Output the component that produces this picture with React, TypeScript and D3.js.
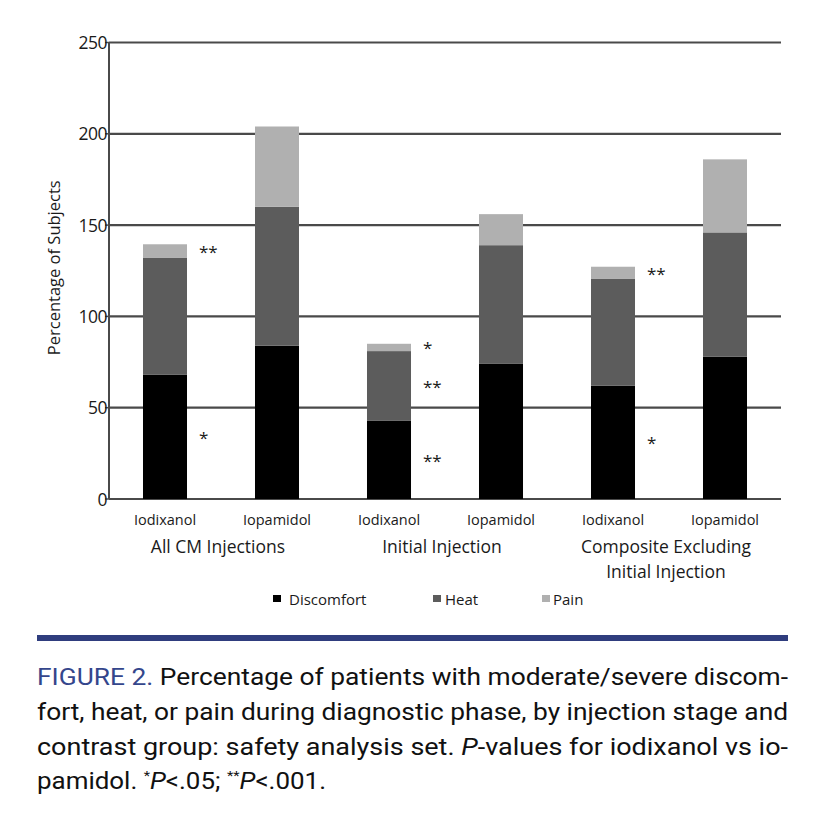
import React from "react";
import * as d3 from "d3";

const bars = ["Iodixanol", "Iopamidol", "Iodixanol", "Iopamidol", "Iodixanol", "Iopamidol"];
const groups = [["All CM Injections"], ["Initial Injection"], ["Composite Excluding", "Initial Injection"]];
const discomfort = [68, 84, 43, 74, 62, 78];
const heat = [64, 76, 38, 65, 58.5, 68];
const pain = [7.5, 44, 4, 17, 6.7, 40];
const seriesNames = ["Discomfort", "Heat", "Pain"];
const seriesColors = ["#000000", "#5c5c5c", "#b0b0b0"];
const yTicks = [0, 50, 100, 150, 200, 250];
// significance marks: [bar index, series index, label]
const marks: [number, number, string][] = [
  [0, 2, "**"], [0, 0, "*"],
  [2, 2, "*"], [2, 1, "**"], [2, 0, "**"],
  [4, 2, "**"], [4, 0, "*"],
];
const captionLines = [
  "Percentage of patients with moderate/severe discom-",
  "fort, heat, or pain during diagnostic phase, by injection stage and",
  "contrast group: safety analysis set. ",
];

export default function App() {
  const W = 840, H = 820;
  const x0 = 109, x1 = 781, yTop = 42.5, yBot = 499;
  const y = d3.scaleLinear().domain([0, 250]).range([yBot, yTop]);
  const x = d3.scaleBand<number>().domain(d3.range(bars.length)).range([x0, x1]).paddingInner(0.607).paddingOuter(0.3035);
  const table = bars.map((b, i) => ({ i, Discomfort: discomfort[i], Heat: heat[i], Pain: pain[i] }));
  const stack = d3.stack<any>().keys(seriesNames)(table);
  const font = "'Open Sans', sans-serif";
  const textCol = "#1a1a1a";
  const capFont = "Roboto, 'Open Sans', sans-serif";

  return (
    <svg width={W} height={H} style={{ position: "absolute", left: 0, top: 0, background: "#fff" }}>
      <rect x={0} y={0} width={W} height={H} fill="#fff" />
      {yTicks.map((t) => (
        <line key={t} x1={x0} x2={x1} y1={y(t)} y2={y(t)} stroke="#4a4a4a" strokeWidth={2.2} />
      ))}
      {stack.map((s, si) =>
        s.map((d, i) => (
          <rect key={si + "-" + i} x={x(i)} width={x.bandwidth()} y={y(d[1])} height={y(d[0]) - y(d[1])} fill={seriesColors[si]} />
        ))
      )}
      <line x1={x0} x2={x0} y1={yTop} y2={yBot} stroke="#4a4a4a" strokeWidth={2} />
      {yTicks.map((t) => (
        <g key={"t" + t}>
          <line x1={x0 - 4} x2={x0} y1={y(t)} y2={y(t)} stroke="#4a4a4a" strokeWidth={1.5} />
          <text x={x0 - 2} y={y(t) + 6.5} textAnchor="end" fontFamily={font} fontSize={17.5} fill={textCol} letterSpacing={-0.5}>{t}</text>
        </g>
      ))}
      <text transform={`translate(60,${(yTop + yBot) / 2 - 3}) rotate(-90)`} textAnchor="middle" fontFamily={font} fontSize={16.5} fill={textCol}>
        Percentage of Subjects
      </text>
      {marks.map(([bi, si, lab], k) => {
        const seg = stack[si][bi];
        const mid = (y(seg[0]) + y(seg[1])) / 2;
        return (
          <text key={"m" + k} x={(x(bi) as number) + x.bandwidth() + 12} y={mid + 7} fontFamily={font} fontSize={17} fill={textCol}>{lab}</text>
        );
      })}
      {bars.map((b, i) => (
        <text key={"b" + i} x={(x(i) as number) + x.bandwidth() / 2} y={525} textAnchor="middle" fontFamily={font} fontSize={14.5} fill={textCol}>{b}</text>
      ))}
      {groups.map((g, gi) => {
        const cx = ((x(gi * 2) as number) + (x(gi * 2 + 1) as number) + x.bandwidth()) / 2 - 3;
        return g.map((line, li) => (
          <text key={"g" + gi + li} x={cx} y={553 + li * 25} textAnchor="middle" fontFamily={font} fontSize={17.5} fill={textCol}>{line}</text>
        ));
      })}
      {seriesNames.map((n, si) => {
        const lx = [273, 433, 542][si];
        const tx = [289, 445, 553][si];
        return (
          <g key={"l" + n}>
            <rect x={lx} y={595} width={8} height={7} fill={seriesColors[si]} />
            <text x={tx} y={604.5} fontFamily={font} fontSize={15} fill={textCol}>{n}</text>
          </g>
        );
      })}
      <rect x={37} y={635} width={751} height={6} fill="#2f3d7e" />
      <text x={37} y={685} fontFamily={capFont} fontSize={23} fill="#111" textLength={751} lengthAdjust="spacingAndGlyphs">
        <tspan fill="#34468c">FIGURE 2.</tspan> {captionLines[0]}
      </text>
      <text x={37} y={720} fontFamily={capFont} fontSize={23} fill="#111" textLength={751} lengthAdjust="spacingAndGlyphs">
        {captionLines[1]}
      </text>
      <text x={37} y={755} fontFamily={capFont} fontSize={23} fill="#111" textLength={751} lengthAdjust="spacingAndGlyphs">
        {captionLines[2]}<tspan fontStyle="italic">P</tspan>-values for iodixanol vs io-
      </text>
      <text x={37} y={789} fontFamily={capFont} fontSize={23} fill="#111" textLength={289} lengthAdjust="spacingAndGlyphs">
        pamidol. <tspan fontSize={13} dy={-9}>*</tspan><tspan fontStyle="italic" dy={9}>P</tspan>&lt;.05; <tspan fontSize={13} dy={-9}>**</tspan><tspan fontStyle="italic" dy={9}>P</tspan>&lt;.001.
      </text>
    </svg>
  );
}
